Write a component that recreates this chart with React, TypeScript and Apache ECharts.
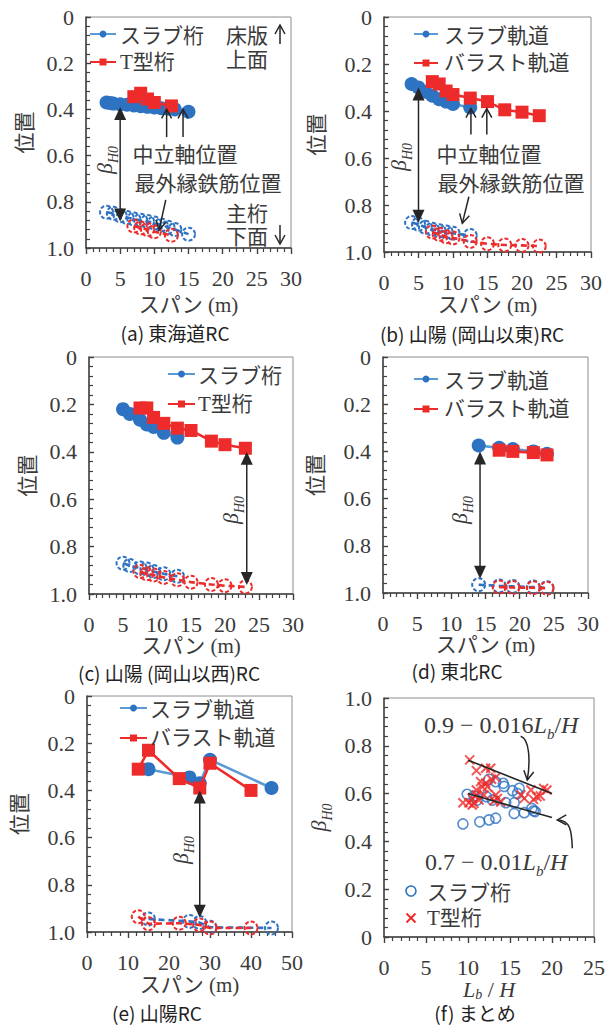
import React, { useEffect, useRef } from "react";
import * as echarts from "echarts";

type Pt = [number, number];

// ---------------- data ----------------
// (a) 東海道RC  upper: 中立軸位置, lower: 最外縁鉄筋位置
const aSlabNeutral: Pt[] = [[3, 0.37], [3.5, 0.372], [4, 0.375], [5, 0.378], [6, 0.38], [7, 0.383], [8, 0.386], [9, 0.389], [10, 0.392], [11, 0.395], [12, 0.397], [13, 0.4], [15, 0.41]];
const aTNeutral: Pt[] = [[7, 0.345], [8, 0.33], [9, 0.355], [10, 0.37], [12.5, 0.385]];
const aSlabRebar: Pt[] = [[3, 0.845], [4, 0.85], [5, 0.86], [6, 0.868], [7, 0.875], [8, 0.88], [9, 0.885], [10, 0.892], [11, 0.9], [12, 0.91], [13, 0.92], [15, 0.94]];
const aTRebar: Pt[] = [[7, 0.905], [8, 0.913], [9, 0.92], [10, 0.93], [12.5, 0.945]];

// (b) 山陽 (岡山以東)RC
const bSlabNeutral: Pt[] = [[4, 0.285], [5, 0.3], [6, 0.318], [7, 0.335], [8, 0.35], [9, 0.36], [10, 0.37], [12.5, 0.385]];
const bBallastNeutral: Pt[] = [[7, 0.275], [8, 0.285], [9, 0.315], [10, 0.33], [12.5, 0.345], [15, 0.36], [17.5, 0.395], [20, 0.405], [22.5, 0.42]];
const bSlabRebar: Pt[] = [[4, 0.875], [5, 0.882], [6, 0.895], [7, 0.903], [8, 0.91], [9, 0.915], [10, 0.92], [12.5, 0.93]];
const bBallastRebar: Pt[] = [[7, 0.915], [8, 0.925], [9, 0.935], [10, 0.94], [12.5, 0.955], [15, 0.965], [17.5, 0.97], [20, 0.972], [22.5, 0.975]];

// (c) 山陽 (岡山以西)RC
const cSlabNeutral: Pt[] = [[5, 0.22], [6, 0.24], [7.5, 0.265], [8.5, 0.285], [9.5, 0.295], [11, 0.32], [13, 0.34]];
const cTNeutral: Pt[] = [[7.5, 0.215], [8.5, 0.215], [9.5, 0.255], [11, 0.28], [13, 0.3], [15, 0.31], [18, 0.355], [20, 0.37], [23, 0.385]];
const cSlabRebar: Pt[] = [[5, 0.87], [6, 0.88], [7.5, 0.89], [8.5, 0.895], [9.5, 0.905], [11, 0.915], [13, 0.925]];
const cTRebar: Pt[] = [[7.5, 0.905], [8.5, 0.915], [9.5, 0.92], [11, 0.93], [13, 0.94], [15, 0.95], [18, 0.96], [20, 0.965], [23, 0.97]];

// (d) 東北RC
const dSlabNeutral: Pt[] = [[14, 0.375], [17, 0.385], [19, 0.39], [22, 0.4], [24, 0.41]];
const dBallastNeutral: Pt[] = [[17, 0.395], [19, 0.4], [22, 0.405], [24, 0.415]];
const dSlabRebar: Pt[] = [[14, 0.965], [17, 0.97], [19, 0.972], [22, 0.975], [24, 0.978]];
const dBallastRebar: Pt[] = [[17, 0.975], [19, 0.977], [22, 0.978], [24, 0.98]];

// (e) 山陽RC
const eSlabNeutral: Pt[] = [[15, 0.31], [25, 0.345], [27.5, 0.37], [30, 0.27], [45, 0.39]];
const eBallastNeutral: Pt[] = [[12.5, 0.31], [15, 0.23], [22.5, 0.35], [27.5, 0.39], [30, 0.285], [40, 0.4]];
const eSlabRebar: Pt[] = [[15, 0.945], [25, 0.955], [27.5, 0.96], [30, 0.98], [45, 0.983]];
const eBallastRebar: Pt[] = [[12.5, 0.935], [15, 0.965], [22.5, 0.963], [27.5, 0.97], [30, 0.983], [40, 0.983]];

// (f) まとめ  (L_b/H, β_H0)
const fSlab: Pt[] = [[9.4, 0.473], [9.9, 0.597], [10.7, 0.59], [11.1, 0.573], [11.4, 0.482], [12.2, 0.587], [12.5, 0.49], [12.5, 0.66], [12.9, 0.573], [13.3, 0.497], [13.3, 0.65], [14.2, 0.643], [14.3, 0.63], [14.5, 0.562], [15.3, 0.612], [15.5, 0.562], [15.5, 0.517], [15.9, 0.6], [16.1, 0.622], [16.7, 0.52], [17.6, 0.538], [17.8, 0.528], [18.0, 0.525]];
const fT: Pt[] = [[10.2, 0.741], [11.0, 0.696], [12.1, 0.706], [12.7, 0.706], [13.3, 0.668], [12.8, 0.66], [11.5, 0.65], [12.1, 0.643], [11.0, 0.615], [11.7, 0.629], [12.3, 0.629], [11.9, 0.594], [11.0, 0.594], [10.5, 0.58], [9.4, 0.562], [10.1, 0.562], [10.7, 0.559], [11.3, 0.573], [10.5, 0.552], [13.3, 0.594], [13.5, 0.58], [13.1, 0.57], [13.9, 0.565], [16.3, 0.594], [16.7, 0.58], [17.5, 0.615], [17.8, 0.576], [19.0, 0.622], [18.6, 0.59], [18.2, 0.587], [19.4, 0.615]];
const fUpperFit: Pt[] = [[10, 0.74], [20, 0.6]];
const fLowerFit: Pt[] = [[10, 0.6], [20, 0.5]];

const panelTitles = ["(a) 東海道RC", "(b) 山陽 (岡山以東)RC", "(c) 山陽 (岡山以西)RC", "(d) 東北RC", "(e) 山陽RC", "(f) まとめ"];
const girderLegend = ["スラブ桁", "T型桁"];
const trackLegend = ["スラブ軌道", "バラスト軌道"];
const xMaxes = [30, 30, 30, 30, 50, 25];
const xIntervals = [5, 5, 5, 5, 10, 5];
const spanName = "スパン (m)";
const posName = "位置";

// ---------------- styles ----------------
const SERIF = "'Liberation Serif', 'Noto Sans CJK JP', serif";
const CJK = "'Noto Sans CJK JP', sans-serif";
const BLUE = "#2E72C2";
const BLUE_LINE = "#5B9BD5";
const RED = "#EE2B2B";
const INK = "#3a3a3a";
const DARK = "#262626";

const GRIDS = [
  { left: 86, top: 17, width: 205, height: 231 },
  { left: 384, top: 17, width: 207, height: 235 },
  { left: 89, top: 357, width: 204, height: 237 },
  { left: 383, top: 357, width: 205, height: 236 },
  { left: 87, top: 696, width: 205, height: 236 },
  { left: 384, top: 698, width: 210, height: 239 },
];
const Y_NAME_GAP = [53, 59, 53, 59, 59, 50];
const X_NAME_GAP = [46, 42, 40, 41, 42, 28];

const subRich = {
  b: { fontFamily: SERIF, fontStyle: "italic", fontSize: 22, color: INK, padding: [0, 0, 5, 0] },
  s: { fontFamily: SERIF, fontStyle: "italic", fontSize: 14, color: INK, verticalAlign: "bottom" },
  n: { fontFamily: SERIF, fontSize: 22, color: INK, padding: [0, 0, 5, 0] },
};
const nameRich = {
  b: { fontFamily: SERIF, fontStyle: "italic", fontSize: 22, color: INK, lineHeight: 18, padding: [0, 0, 5, 0] },
  s: { fontFamily: SERIF, fontStyle: "italic", fontSize: 14, color: INK, lineHeight: 12, verticalAlign: "bottom" },
  n: { fontFamily: SERIF, fontSize: 22, color: INK, lineHeight: 18, padding: [0, 0, 5, 0] },
};
const formulaRich = {
  b: { fontFamily: SERIF, fontStyle: "italic", fontSize: 24, color: "#222", padding: [0, 0, 5, 0] },
  s: { fontFamily: SERIF, fontStyle: "italic", fontSize: 15, color: "#222", verticalAlign: "bottom" },
  n: { fontFamily: SERIF, fontSize: 24, color: "#222", padding: [0, 0, 5, 0] },
};

function xAxisCfg(gi: number) {
  const isF = gi === 5;
  return {
    type: "value",
    gridIndex: gi,
    min: 0,
    max: xMaxes[gi],
    interval: xIntervals[gi],
    position: "bottom",
    name: isF ? "{b|L}{s|b}{n| / }{b|H}" : spanName,
    nameLocation: "middle",
    nameGap: X_NAME_GAP[gi],
    nameTextStyle: isF ? { rich: nameRich } : { fontFamily: SERIF, fontSize: 21, color: INK, lineHeight: 21 },
    axisLine: { show: true, onZero: false, lineStyle: { color: "#404040", width: 1.5 } },
    axisTick: { show: true, inside: false, length: 6, lineStyle: { color: "#404040", width: 1.4 } },
    minorTick: { show: true, splitNumber: 5, length: 4, lineStyle: { color: "#404040", width: 1.2 } },
    axisLabel: { fontFamily: SERIF, fontSize: 22, color: INK, margin: 19 },
    splitLine: { show: false },
    minorSplitLine: { show: false },
  };
}

function yAxisCfg(gi: number) {
  const isF = gi === 5;
  return {
    type: "value",
    gridIndex: gi,
    min: 0,
    max: 1,
    interval: 0.2,
    inverse: !isF,
    position: "left",
    name: isF ? "{b|β}{s|H0}" : posName,
    nameLocation: "middle",
    nameGap: Y_NAME_GAP[gi],
    nameTextStyle: isF ? { rich: subRich } : { fontFamily: CJK, fontSize: 21, color: INK },
    axisLine: { show: true, onZero: false, lineStyle: { color: "#404040", width: 1.5 } },
    axisTick: { show: true, inside: true, length: 5, lineStyle: { color: "#404040", width: 1.4 } },
    minorTick: { show: true, splitNumber: 5, length: 4, lineStyle: { color: "#404040", width: 1.2 } },
    axisLabel: {
      fontFamily: SERIF, fontSize: 22, color: INK, margin: 12,
      formatter: (v: number) => (v === 0 ? "0" : v.toFixed(1)),
    },
    splitLine: { show: false },
    minorSplitLine: { show: false },
  };
}

function upper(gi: number, data: Pt[], blue: boolean) {
  return {
    type: "line", xAxisIndex: gi, yAxisIndex: gi, data,
    symbol: blue ? "circle" : "rect",
    symbolSize: blue ? 14 : 13,
    itemStyle: { color: blue ? BLUE : RED },
    lineStyle: { color: blue ? BLUE_LINE : RED, width: 2.6 },
    z: blue ? 3 : 4,
  };
}

function lower(gi: number, data: Pt[], blue: boolean) {
  const c = blue ? BLUE : RED;
  return {
    type: "line", xAxisIndex: gi, yAxisIndex: gi, data,
    symbol: "circle",
    symbolSize: 13,
    itemStyle: { color: "rgba(255,255,255,0)", borderColor: c, borderWidth: 2, borderType: [4, 2] },
    lineStyle: { color: c, width: 2.6, type: [6, 4] },
    z: blue ? 3 : 4,
  };
}

function buildOption() {
  const series: any[] = [
    lower(0, aSlabRebar, true), lower(0, aTRebar, false), upper(0, aSlabNeutral, true), upper(0, aTNeutral, false),
    lower(1, bSlabRebar, true), lower(1, bBallastRebar, false), upper(1, bSlabNeutral, true), upper(1, bBallastNeutral, false),
    lower(2, cSlabRebar, true), lower(2, cTRebar, false), upper(2, cSlabNeutral, true), upper(2, cTNeutral, false),
    lower(3, dSlabRebar, true), lower(3, dBallastRebar, false), upper(3, dSlabNeutral, true), upper(3, dBallastNeutral, false),
    lower(4, eSlabRebar, true), lower(4, eBallastRebar, false), upper(4, eSlabNeutral, true), upper(4, eBallastNeutral, false),
    {
      type: "scatter", xAxisIndex: 5, yAxisIndex: 5, data: fSlab, symbol: "circle", symbolSize: 10,
      itemStyle: { color: "rgba(255,255,255,0)", borderColor: BLUE, borderWidth: 1.6 },
    },
    {
      type: "scatter", xAxisIndex: 5, yAxisIndex: 5, data: fT, symbol: "path://M0,0L10,10M10,0L0,10", symbolSize: 9,
      itemStyle: { color: "rgba(255,255,255,0)", borderColor: RED, borderWidth: 2 },
    },
    {
      type: "line", xAxisIndex: 5, yAxisIndex: 5, data: fUpperFit, symbol: "none",
      lineStyle: { color: DARK, width: 1.6 }, z: 5,
    },
    {
      type: "line", xAxisIndex: 5, yAxisIndex: 5, data: fLowerFit, symbol: "none",
      lineStyle: { color: DARK, width: 1.6 }, z: 5,
    },
  ];
  return {
    animation: false,
    backgroundColor: "#ffffff",
    grid: GRIDS.map((g) => ({ ...g, show: true, borderColor: "#8c8c8c", borderWidth: 1, backgroundColor: "transparent" })),
    xAxis: GRIDS.map((_, i) => xAxisCfg(i)),
    yAxis: GRIDS.map((_, i) => yAxisCfg(i)),
    series,
  };
}

// ---------------- annotations ----------------
function buildGraphics(chart: any) {
  const P = (gi: number, x: number, y: number): number[] => chart.convertToPixel({ gridIndex: gi }, [x, y]);
  const els: any[] = [];
  const seg = (a: number[], b: number[], w = 1.5) =>
    els.push({ type: "line", z: 100, shape: { x1: a[0], y1: a[1], x2: b[0], y2: b[1] }, style: { stroke: DARK, lineWidth: w } });
  const filledHead = (tip: number[], from: number[], len = 13, half = 6) => {
    const dx = tip[0] - from[0], dy = tip[1] - from[1];
    const L = Math.hypot(dx, dy); const ux = dx / L, uy = dy / L;
    const bx = tip[0] - ux * len, by = tip[1] - uy * len;
    els.push({ type: "polygon", z: 101, shape: { points: [tip, [bx - uy * half, by + ux * half], [bx + uy * half, by - ux * half]] }, style: { fill: DARK } });
  };
  const openHead = (tip: number[], from: number[], len = 9, half = 5) => {
    const dx = tip[0] - from[0], dy = tip[1] - from[1];
    const L = Math.hypot(dx, dy); const ux = dx / L, uy = dy / L;
    const bx = tip[0] - ux * len, by = tip[1] - uy * len;
    els.push({ type: "polyline", z: 101, shape: { points: [[bx - uy * half, by + ux * half], tip, [bx + uy * half, by - ux * half]] }, style: { stroke: DARK, lineWidth: 1.5, fill: null } });
  };
  const text = (t: string, x: number, y: number, opts: any = {}) => {
    const fs = opts.fontSize || 21;
    els.push({
      type: "text", x, y, z: 102, rotation: opts.rotation || 0,
      style: {
        text: t, fontFamily: opts.fontFamily || CJK, fontSize: fs, lineHeight: opts.rich ? undefined : fs,
        fill: opts.fill || INK, align: opts.align || "left", verticalAlign: "middle", rich: opts.rich,
      },
    });
  };

  // β_H0 double arrows
  const betas = [
    { gi: 0, x: 5, y1: 0.39, y2: 0.885, lx: 107, ly: 160 },
    { gi: 1, x: 5, y1: 0.3, y2: 0.875, lx: 401, ly: 157 },
    { gi: 2, x: 23.2, y1: 0.4, y2: 0.962, lx: 233, ly: 510 },
    { gi: 3, x: 14.2, y1: 0.4, y2: 0.94, lx: 462, ly: 510 },
    { gi: 4, x: 27.5, y1: 0.4, y2: 0.94, lx: 183, ly: 850 },
  ];
  betas.forEach((b) => {
    const p1 = P(b.gi, b.x, b.y1), p2 = P(b.gi, b.x, b.y2);
    seg([p1[0], p1[1] + 8], [p2[0], p2[1] - 8]);
    filledHead(p1, p2);
    filledHead(p2, p1);
    text("{b|β}{s|H0}", b.lx, b.ly, { rotation: Math.PI / 2, align: "center", rich: subRich });
  });

  // neutral-axis arrows (a), (b)
  const ups = [
    { gi: 0, xs: [11.8, 14.2], y0: 0.52, y1: 0.4 },
    { gi: 1, xs: [12.6, 14.9], y0: 0.5, y1: 0.39 },
  ];
  ups.forEach((u) => u.xs.forEach((x) => {
    const a = P(u.gi, x, u.y0), b = P(u.gi, x, u.y1);
    seg(a, b); openHead(b, a);
  }));
  // rebar arrows (a), (b)
  const downs = [
    { gi: 0, from: [11.67, 0.792], to: [10.7, 0.922] },
    { gi: 1, from: [12.3, 0.765], to: [11.35, 0.878] },
  ];
  downs.forEach((d) => {
    const a = P(d.gi, d.from[0], d.from[1]), b = P(d.gi, d.to[0], d.to[1]);
    seg(a, b); openHead(b, a);
  });

  text("中立軸位置", 185, 153, { align: "center" });
  text("最外縁鉄筋位置", 208, 182, { align: "center" });
  text("中立軸位置", 489, 153, { align: "center" });
  text("最外縁鉄筋位置", 511, 182, { align: "center" });

  // (a) 床版上面 / 主桁下面
  text("床版", 268, 34, { align: "right" });
  text("上面", 268, 58, { align: "right" });
  text("主桁", 268, 212, { align: "right" });
  text("下面", 268, 235, { align: "right" });
  seg([280, 44], [280, 25]); openHead([280, 25], [280, 44]);
  seg([280, 225], [280, 244]); openHead([280, 244], [280, 225]);

  // legends (a)-(e)
  const legends = [
    { x0: 90, x1: 116, tx: 120, y: [34, 62], labels: girderLegend },
    { x0: 414, x1: 438, tx: 444, y: [34, 63], labels: trackLegend },
    { x0: 168, x1: 195, tx: 198, y: [374, 404], labels: girderLegend },
    { x0: 414, x1: 438, tx: 444, y: [379, 409], labels: trackLegend },
    { x0: 120, x1: 147, tx: 150, y: [708, 738], labels: trackLegend },
  ];
  legends.forEach((l) => {
    const cx = (l.x0 + l.x1) / 2;
    els.push({ type: "line", z: 100, shape: { x1: l.x0, y1: l.y[0], x2: l.x1, y2: l.y[0] }, style: { stroke: BLUE_LINE, lineWidth: 2 } });
    els.push({ type: "circle", z: 101, shape: { cx, cy: l.y[0], r: 3.5 }, style: { fill: BLUE } });
    els.push({ type: "line", z: 100, shape: { x1: l.x0, y1: l.y[1], x2: l.x1, y2: l.y[1] }, style: { stroke: RED, lineWidth: 2 } });
    els.push({ type: "rect", z: 101, shape: { x: cx - 3.5, y: l.y[1] - 3.5, width: 7, height: 7 }, style: { fill: RED } });
    text(l.labels[0], l.tx, l.y[0]);
    text(l.labels[1], l.tx, l.y[1], { fontFamily: SERIF });
  });

  // (f) legend
  els.push({ type: "circle", z: 101, shape: { cx: 411, cy: 891, r: 5 }, style: { fill: null, stroke: BLUE, lineWidth: 1.6 } });
  els.push({ type: "line", z: 101, shape: { x1: 406.5, y1: 913.5, x2: 415.5, y2: 922.5 }, style: { stroke: RED, lineWidth: 2 } });
  els.push({ type: "line", z: 101, shape: { x1: 415.5, y1: 913.5, x2: 406.5, y2: 922.5 }, style: { stroke: RED, lineWidth: 2 } });
  text(girderLegend[0], 427, 891);
  text(girderLegend[1], 427, 918, { fontFamily: SERIF });

  // (f) formulas and curved arrows
  text("{n|0.9 − 0.016}{b|L}{s|b}{n|/}{b|H}", 424, 727, { rich: formulaRich });
  text("{n|0.7 − 0.01}{b|L}{s|b}{n|/}{b|H}", 425, 864, { rich: formulaRich });
  const curve = (s: number[], c1: number[], c2: number[], e: number[]) => {
    const S = P(5, s[0], s[1]), C1 = P(5, c1[0], c1[1]), C2 = P(5, c2[0], c2[1]), E = P(5, e[0], e[1]);
    els.push({
      type: "bezierCurve", z: 100,
      shape: { x1: S[0], y1: S[1], cpx1: C1[0], cpy1: C1[1], cpx2: C2[0], cpy2: C2[1], x2: E[0], y2: E[1] },
      style: { stroke: DARK, lineWidth: 1.5, fill: null },
    });
    openHead(E, C2);
  };
  curve([16.27, 0.84], [17.3, 0.83], [17.45, 0.74], [17.06, 0.657]);
  curve([22.42, 0.371], [22.35, 0.447], [22.14, 0.49], [20.63, 0.49]);

  // titles
  const titlePos = [[175, 332], [472, 333], [169, 672], [457, 670], [157, 1012], [475, 1012]];
  panelTitles.forEach((t, i) => text(t, titlePos[i][0], titlePos[i][1], { align: "center", fontSize: 19, fill: "#222" }));

  return els;
}

export default function App() {
  const ref = useRef<HTMLDivElement>(null);
  useEffect(() => {
    const chart = echarts.init(ref.current as HTMLDivElement, null, { renderer: "svg" });
    chart.setOption(buildOption() as any);
    chart.setOption({ graphic: buildGraphics(chart) } as any);
    return () => chart.dispose();
  }, []);
  return (
    <div
      ref={ref}
      style={{ position: "absolute", left: 0, top: 0, width: 608, height: 1028, background: "#fff" }}
    />
  );
}
